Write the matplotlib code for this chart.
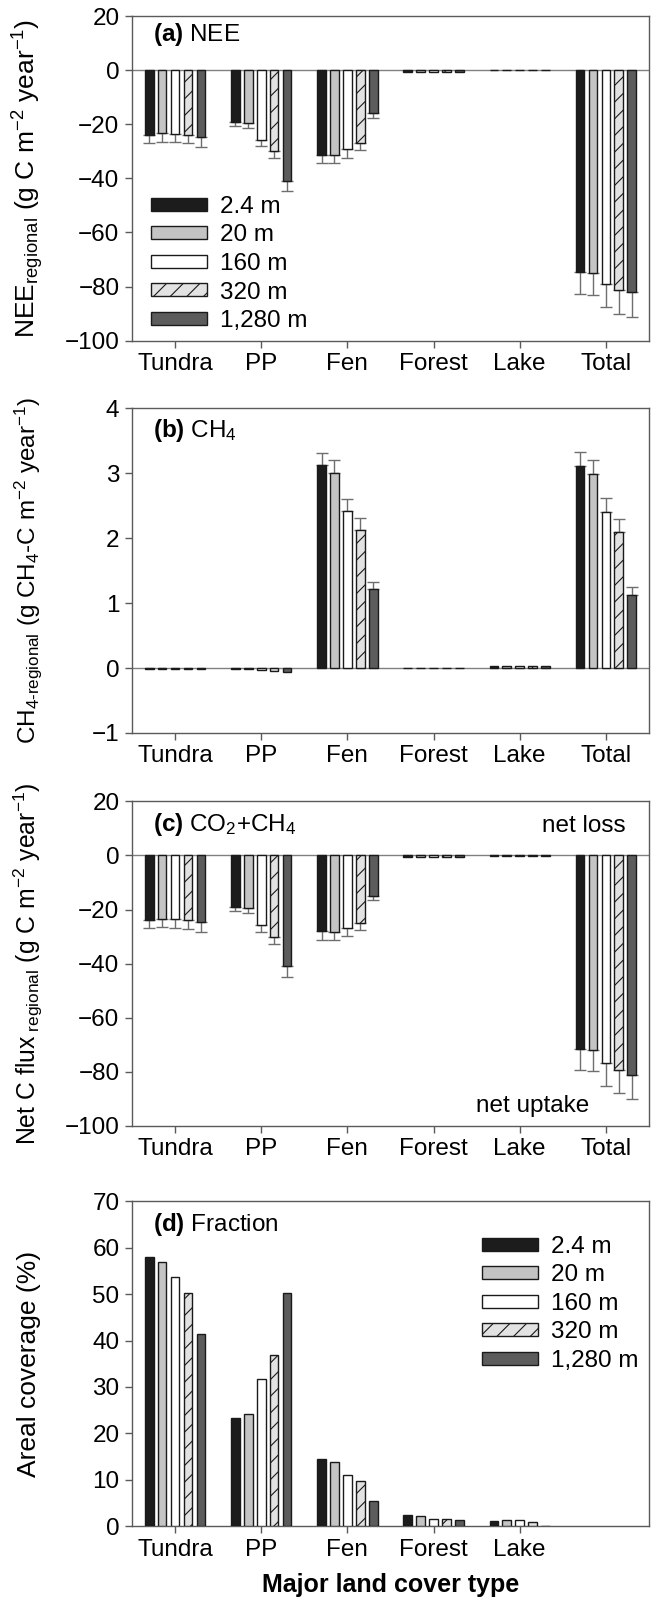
import numpy as np
import matplotlib
matplotlib.use('Agg')
import matplotlib.pyplot as plt
from matplotlib.patches import Patch

plt.rcParams['font.family'] = ['Liberation Sans', 'DejaVu Sans']
plt.rcParams['mathtext.fontset'] = 'custom'
plt.rcParams['mathtext.rm'] = 'Liberation Sans'
plt.rcParams['mathtext.it'] = 'Liberation Sans:italic'
plt.rcParams['mathtext.bf'] = 'Liberation Sans:bold'
plt.rcParams['hatch.linewidth'] = 0.8

categories = ['Tundra', 'PP', 'Fen', 'Forest', 'Lake', 'Total']
resolutions = ['2.4 m', '20 m', '160 m', '320 m', '1,280 m']

# rows = categories, columns = resolutions
nee = [[-23.9, -23.4, -23.6, -23.9, -24.6],
       [-19.1, -19.5, -25.7, -29.8, -40.8],
       [-31.4, -31.3, -29.3, -26.8, -16.0],
       [-0.7, -0.7, -0.7, -0.7, -0.7],
       [-0.1, -0.1, -0.1, -0.1, -0.1],
       [-74.6, -75.1, -79.1, -81.2, -82.1]]
nee_err = [[3.2, 3.1, 3.0, 3.2, 3.8],
           [1.5, 1.9, 2.4, 2.8, 3.8],
           [2.8, 3.1, 3.0, 2.8, 1.7],
           [0, 0, 0, 0, 0],
           [0, 0, 0, 0, 0],
           [8.2, 8.0, 8.6, 8.9, 9.3]]

ch4 = [[-0.015, -0.015, -0.015, -0.015, -0.02],
       [-0.02, -0.02, -0.03, -0.04, -0.06],
       [3.12, 3.00, 2.42, 2.13, 1.21],
       [-0.005, -0.005, -0.005, -0.005, -0.005],
       [0.03, 0.03, 0.03, 0.03, 0.025],
       [3.11, 2.99, 2.41, 2.10, 1.13]]
ch4_err = [[0, 0, 0, 0, 0],
           [0, 0, 0, 0, 0],
           [0.19, 0.20, 0.19, 0.18, 0.11],
           [0, 0, 0, 0, 0],
           [0, 0, 0, 0, 0],
           [0.22, 0.22, 0.21, 0.19, 0.12]]

netc = [[-24.0, -23.5, -23.5, -24.0, -24.7],
        [-19.0, -19.5, -25.8, -30.0, -41.0],
        [-28.1, -28.4, -26.9, -24.9, -14.9],
        [-0.6, -0.6, -0.6, -0.6, -0.6],
        [-0.2, -0.2, -0.2, -0.2, -0.2],
        [-71.6, -72.0, -76.6, -79.2, -81.0]]
netc_err = [[3.0, 3.0, 3.3, 3.2, 3.7],
            [1.7, 1.9, 2.5, 2.7, 3.8],
            [3.0, 3.0, 3.0, 2.6, 1.6],
            [0, 0, 0, 0, 0],
            [0, 0, 0, 0, 0],
            [7.8, 7.7, 8.7, 8.5, 9.0]]

frac_categories = ['Tundra', 'PP', 'Fen', 'Forest', 'Lake']
fraction = [[58.0, 56.9, 53.8, 50.3, 41.5],
            [23.4, 24.1, 31.8, 36.9, 50.3],
            [14.5, 13.8, 11.1, 9.7, 5.5],
            [2.4, 2.2, 1.6, 1.5, 1.4],
            [1.2, 1.4, 1.3, 0.9, 0.0]]

face_colors = ['#1c1c1c', '#c4c4c4', '#ffffff', '#e2e2e2', '#5c5c5c']
hatches = [None, None, None, '//', None]
EDGE = '#1a1a1a'
AXC = '#5a5a5a'
FS = 17.5

fig = plt.figure(figsize=(6.54, 16.01), dpi=100)
L, W, H = 0.2018, 0.7905, 0.2028
bottoms = [0.7872, 0.5422, 0.2967, 0.0468]
axes = [fig.add_axes([L, b, W, H]) for b in bottoms]

bw, step = 0.10, 0.15


def draw(ax, cats, vals, errs=None):
    vals = np.asarray(vals, dtype=float)
    x0 = np.arange(len(cats))
    for j in range(len(resolutions)):
        xs = x0 + (j - 2) * step
        ys = vals[:, j]
        ax.bar(xs, ys, width=bw, color=face_colors[j], edgecolor=EDGE,
               linewidth=1.0, hatch=hatches[j], zorder=3)
        if errs is not None:
            e = np.asarray(errs, dtype=float)[:, j]
            lower = np.where(ys < 0, e, 0)
            upper = np.where(ys >= 0, e, 0)
            m = e > 0
            ax.errorbar(xs[m], ys[m], yerr=[lower[m], upper[m]], fmt='none',
                        ecolor='#6e6e6e', elinewidth=1.0, capsize=4,
                        capthick=1.0, zorder=2)


def style(ax, ylim, yticks, ticks_x, labels_x):
    ax.set_xlim(-0.5, 5.5)
    ax.set_ylim(*ylim)
    ax.set_yticks(yticks)
    ax.set_xticks(ticks_x)
    ax.set_xticklabels(labels_x)
    for s in ax.spines.values():
        s.set_color(AXC)
        s.set_linewidth(1.0)
    ax.tick_params(direction='out', length=5, width=1.0, color=AXC,
                   labelsize=FS, pad=4)


draw(axes[0], categories, nee, nee_err)
style(axes[0], (-100, 20), np.arange(-100, 21, 20), range(6), categories)
draw(axes[1], categories, ch4, ch4_err)
style(axes[1], (-1, 4), np.arange(-1, 5, 1), range(6), categories)
draw(axes[2], categories, netc, netc_err)
style(axes[2], (-100, 20), np.arange(-100, 21, 20), range(6), categories)
draw(axes[3], frac_categories, fraction)
style(axes[3], (0, 70), np.arange(0, 71, 10), range(5), frac_categories)

for ax in axes[:3]:
    ax.axhline(0, color='#808080', linewidth=1.0, zorder=1)

ylabels = [r'NEE$_{\mathrm{regional}}$ (g C m$^{-2}$ year$^{-1}$)',
           r'CH$_{\text{4-regional}}$ (g CH$_4$-C m$^{-2}$ year$^{-1}$)',
           r'Net C flux$_{\ \mathrm{regional}}$ (g C m$^{-2}$ year$^{-1}$)',
           'Areal coverage (%)']
lab_x = [-0.167, -0.170, -0.168, -0.176]
lab_fs = [19, 17.5, 17.8, 19]
for ax, t, lx, lf in zip(axes, ylabels, lab_x, lab_fs):
    ax.set_ylabel(t, fontsize=lf)
    ax.yaxis.set_label_coords(lx, 0.5)

panel_texts = [r'$\mathbf{(a)}$ NEE', r'$\mathbf{(b)}$ CH$_4$',
               r'$\mathbf{(c)}$ CO$_2$+CH$_4$', r'$\mathbf{(d)}$ Fraction']
panel_y = [0.944, 0.93, 0.928, 0.929]
for ax, t, py in zip(axes, panel_texts, panel_y):
    ax.text(0.041, py, t, transform=ax.transAxes, fontsize=FS,
            ha='left', va='center')

axes[2].text(0.954, 0.923, 'net loss', transform=axes[2].transAxes,
             fontsize=FS, ha='right', va='center')
axes[2].text(0.774, 0.062, 'net uptake', transform=axes[2].transAxes,
             fontsize=FS, ha='center', va='center')

axes[3].set_xlabel('Major land cover type', fontsize=18,
                   fontweight='bold', labelpad=9)

handles = [Patch(facecolor=face_colors[j], edgecolor=EDGE, linewidth=1.0,
                 hatch=hatches[j], label=resolutions[j])
           for j in range(len(resolutions))]
leg_kw = dict(frameon=False, fontsize=FS, handlelength=2.3, handleheight=0.45,
              handletextpad=0.53, labelspacing=0.27, borderpad=0,
              borderaxespad=0, loc='upper left')
axes[0].legend(handles=handles, bbox_to_anchor=(0.037, 0.446), **leg_kw)
axes[3].legend(handles=handles, bbox_to_anchor=(0.677, 0.894), **leg_kw)

fig.savefig('out.png', dpi=100)
